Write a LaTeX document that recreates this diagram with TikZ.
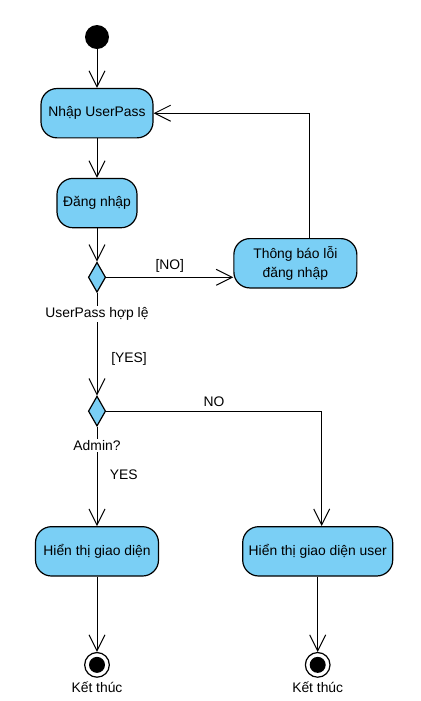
\documentclass[tikz,border=0pt]{standalone}
\usepackage{fontspec}
\setmainfont{Liberation Sans}
\usepackage{tikz}
\usetikzlibrary{shapes.geometric,arrows.meta,positioning}
\definecolor{actblue}{RGB}{122,207,245}

\begin{document}
\begin{tikzpicture}[
    x=0.75pt, y=-0.75pt,
    font=\fontsize{10.4pt}{12.5pt}\selectfont,
    activity/.style={rectangle, draw, fill=actblue, line width=0.9pt, rounded corners=12pt, minimum height=37pt, text centered, align=center},
    decision/.style={diamond, draw, fill=actblue, line width=0.9pt, minimum width=13pt, minimum height=22.5pt, inner sep=0pt},
    startnode/.style={circle, fill=black, minimum size=18pt, inner sep=0pt},
    endnode/.style={circle, draw, fill=white, line width=0.9pt, minimum size=18.5pt, inner sep=0pt,
        path picture={\fill[black] (path picture bounding box.center) circle (6pt);}},
    guard/.style={inner sep=1pt},
    arrow/.style={-{Straight Barb[length=12pt, width=12pt]}, line width=0.75pt}
]
    \useasboundingbox (0,0) rectangle (421,701);

    \node[startnode] (start) at (97,37) {};
    \node[activity, minimum width=84pt, below=29pt of start] (nhap) {Nhập UserPass};
    \node[activity, minimum width=60pt, below=29.5pt of nhap] (dangnhap) {Đăng nhập};
    \node[decision, below=25pt of dangnhap] (kiemtra) {};
    \node[guard, below=10pt of kiemtra] (kiemtralbl) {UserPass hợp lệ};
    \node[activity, minimum width=92.25pt, right=95.25pt of kiemtra, yshift=10.5pt] (loi) {Thông báo lỗi\\[2pt]đăng nhập};
    \node[decision, below=77pt of kiemtra] (quyen) {};
    \node[guard, below=9pt of quyen] (quyenlbl) {Admin?};
    \node[activity, minimum width=92.25pt, below=74.5pt of quyen] (giaodien) {Hiển thị giao diện};
    \node[activity, minimum width=112.5pt, right=62.25pt of giaodien] (giaodienuser) {Hiển thị giao diện user};
    \node[endnode, below=56.5pt of giaodien] (ketthuc1) {};
    \node[endnode, below=56.5pt of giaodienuser] (ketthuc2) {};
    \node[guard, below=2pt of ketthuc1] (ketthuclbl1) {Kết thúc};
    \node[guard, below=2pt of ketthuc2] (ketthuclbl2) {Kết thúc};

    \draw[arrow] (start) -- (nhap);
    \draw[arrow] (nhap) -- (dangnhap);
    \draw[arrow] (dangnhap) -- (kiemtra);
    \draw[arrow] (kiemtra.east) -- node[above] {[NO]} (kiemtra.east -| loi.west);
    \draw[arrow] ([xshift=10.5pt]loi.north) |- (nhap.east);
    \draw[line width=0.75pt] (kiemtra) -- (kiemtralbl);
    \draw[arrow] (kiemtralbl) -- node[right=7pt, pos=0.5] {[YES]} (quyen);
    \draw[line width=0.75pt] (quyen) -- (quyenlbl);
    \draw[arrow] (quyenlbl) -- node[right=6pt, pos=0.3] {YES} (giaodien);
    \draw[arrow] (quyen.east) -| node[pos=0.25, above] {NO} ([xshift=3pt]giaodienuser.north);
    \draw[arrow] (giaodien) -- (ketthuc1);
    \draw[arrow] (giaodienuser) -- (ketthuc2);
\end{tikzpicture}
\end{document}
